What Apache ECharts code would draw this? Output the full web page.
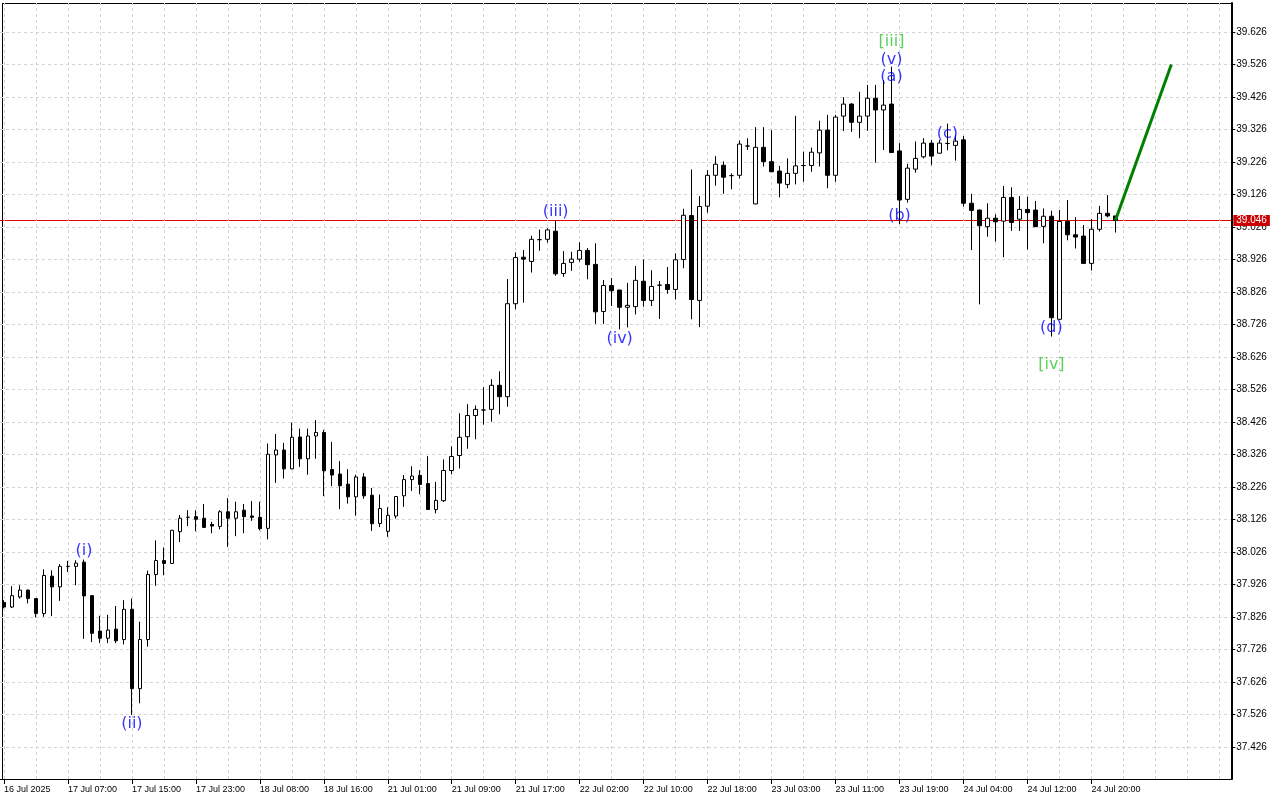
<!DOCTYPE html>
<html><head><meta charset="utf-8">
<script src="https://cdn.jsdelivr.net/npm/echarts@6/dist/echarts.min.js"></script>
<style>html,body{margin:0;padding:0;background:#fff}#c{width:1280px;height:800px}</style>
</head><body><div id="c"></div>
<script>
// hourly bars (server time), 00:00 hour and weekend absent
const categories = [
'16 Jul 22:00','16 Jul 23:00',
'17 Jul 01:00','17 Jul 02:00','17 Jul 03:00','17 Jul 04:00','17 Jul 05:00','17 Jul 06:00','17 Jul 07:00','17 Jul 08:00','17 Jul 09:00','17 Jul 10:00','17 Jul 11:00','17 Jul 12:00','17 Jul 13:00','17 Jul 14:00','17 Jul 15:00','17 Jul 16:00','17 Jul 17:00','17 Jul 18:00','17 Jul 19:00','17 Jul 20:00','17 Jul 21:00','17 Jul 22:00','17 Jul 23:00',
'18 Jul 01:00','18 Jul 02:00','18 Jul 03:00','18 Jul 04:00','18 Jul 05:00','18 Jul 06:00','18 Jul 07:00','18 Jul 08:00','18 Jul 09:00','18 Jul 10:00','18 Jul 11:00','18 Jul 12:00','18 Jul 13:00','18 Jul 14:00','18 Jul 15:00','18 Jul 16:00','18 Jul 17:00','18 Jul 18:00','18 Jul 19:00','18 Jul 20:00','18 Jul 21:00','18 Jul 22:00','18 Jul 23:00',
'21 Jul 01:00','21 Jul 02:00','21 Jul 03:00','21 Jul 04:00','21 Jul 05:00','21 Jul 06:00','21 Jul 07:00','21 Jul 08:00','21 Jul 09:00','21 Jul 10:00','21 Jul 11:00','21 Jul 12:00','21 Jul 13:00','21 Jul 14:00','21 Jul 15:00','21 Jul 16:00','21 Jul 17:00','21 Jul 18:00','21 Jul 19:00','21 Jul 20:00','21 Jul 21:00','21 Jul 22:00','21 Jul 23:00',
'22 Jul 01:00','22 Jul 02:00','22 Jul 03:00','22 Jul 04:00','22 Jul 05:00','22 Jul 06:00','22 Jul 07:00','22 Jul 08:00','22 Jul 09:00','22 Jul 10:00','22 Jul 11:00','22 Jul 12:00','22 Jul 13:00','22 Jul 14:00','22 Jul 15:00','22 Jul 16:00','22 Jul 17:00','22 Jul 18:00','22 Jul 19:00','22 Jul 20:00','22 Jul 21:00','22 Jul 22:00','22 Jul 23:00',
'23 Jul 01:00','23 Jul 02:00','23 Jul 03:00','23 Jul 04:00','23 Jul 05:00','23 Jul 06:00','23 Jul 07:00','23 Jul 08:00','23 Jul 09:00','23 Jul 10:00','23 Jul 11:00','23 Jul 12:00','23 Jul 13:00','23 Jul 14:00','23 Jul 15:00','23 Jul 16:00','23 Jul 17:00','23 Jul 18:00','23 Jul 19:00','23 Jul 20:00','23 Jul 21:00','23 Jul 22:00','23 Jul 23:00',
'24 Jul 01:00','24 Jul 02:00','24 Jul 03:00','24 Jul 04:00','24 Jul 05:00','24 Jul 06:00','24 Jul 07:00','24 Jul 08:00','24 Jul 09:00','24 Jul 10:00','24 Jul 11:00','24 Jul 12:00','24 Jul 13:00','24 Jul 14:00','24 Jul 15:00','24 Jul 16:00','24 Jul 17:00','24 Jul 18:00','24 Jul 19:00','24 Jul 20:00','24 Jul 21:00','24 Jul 22:00','24 Jul 23:00',
'25 Jul 01:00','25 Jul 02:00','25 Jul 03:00','25 Jul 04:00','25 Jul 05:00','25 Jul 06:00','25 Jul 07:00','25 Jul 08:00','25 Jul 09:00','25 Jul 10:00','25 Jul 11:00','25 Jul 12:00','25 Jul 13:00','25 Jul 14:00'
];
const tickLabels = ['16 Jul 2025','17 Jul 07:00','17 Jul 15:00','17 Jul 23:00','18 Jul 08:00','18 Jul 16:00','21 Jul 01:00','21 Jul 09:00','21 Jul 17:00','22 Jul 02:00','22 Jul 10:00','22 Jul 18:00','23 Jul 03:00','23 Jul 11:00','23 Jul 19:00','24 Jul 04:00','24 Jul 12:00','24 Jul 20:00'];
const yTicks = [37.426,37.526,37.626,37.726,37.826,37.926,38.026,38.126,38.226,38.326,38.426,38.526,38.626,38.726,38.826,38.926,39.026,39.126,39.226,39.326,39.426,39.526,39.626];

const open = [37.871,37.857,37.888,37.909,37.883,37.837,37.952,37.919,37.982,37.982,37.995,37.892,37.783,37.761,37.789,37.757,37.850,37.606,37.757,37.957,
38.000,37.991,38.089,38.133,38.135,38.130,38.111,38.105,38.150,38.130,38.155,38.137,38.133,38.099,38.325,38.340,38.282,38.380,38.313,38.383,
38.394,38.280,38.266,38.235,38.196,38.257,38.201,38.114,38.090,38.137,38.199,38.249,38.262,38.237,38.157,38.184,38.277,38.323,38.381,38.446,
38.463,38.465,38.539,38.504,38.790,38.933,38.920,38.987,38.988,39.013,38.883,38.917,38.927,38.954,38.911,38.766,38.846,38.832,38.779,38.781,
38.859,38.800,38.847,38.849,38.834,38.926,39.061,38.800,39.090,39.185,39.216,39.184,39.185,39.275,39.097,39.271,39.227,39.198,39.157,39.191,
39.215,39.215,39.254,39.324,39.185,39.367,39.404,39.348,39.367,39.422,39.386,39.404,39.260,39.111,39.204,39.242,39.284,39.253,39.283,39.277,
39.294,39.099,39.078,39.027,39.053,39.044,39.117,39.050,39.080,39.078,39.028,39.059,38.742,39.043,39.002,38.998,38.914,39.019,39.068,39.060];
const high = [37.878,37.921,37.924,37.911,37.884,37.973,37.970,37.989,37.999,38.001,38.003,37.893,37.830,37.833,37.860,37.878,37.883,37.812,37.969,38.062,
38.040,38.094,38.140,38.155,38.155,38.174,38.119,38.155,38.192,38.181,38.174,38.183,38.181,38.360,38.389,38.362,38.424,38.406,38.406,38.432,
38.402,38.365,38.306,38.281,38.264,38.269,38.223,38.203,38.164,38.198,38.263,38.290,38.278,38.321,38.242,38.311,38.351,38.453,38.481,38.477,
38.533,38.558,38.582,38.866,38.948,38.955,38.999,39.018,39.022,39.045,38.952,38.950,38.979,38.961,38.976,38.863,38.869,38.833,38.854,38.906,
38.926,38.893,38.860,38.903,38.945,39.082,39.203,39.121,39.201,39.244,39.228,39.191,39.292,39.299,39.333,39.333,39.324,39.214,39.237,39.368,
39.258,39.270,39.353,39.371,39.371,39.425,39.407,39.442,39.463,39.463,39.478,39.519,39.284,39.220,39.289,39.299,39.294,39.294,39.344,39.308,
39.306,39.128,39.080,39.099,39.065,39.152,39.148,39.121,39.119,39.106,39.083,39.076,39.078,39.109,39.056,39.032,39.050,39.091,39.124,39.060];
const low = [37.853,37.854,37.883,37.868,37.825,37.827,37.829,37.876,37.965,37.924,37.759,37.749,37.746,37.746,37.746,37.742,37.525,37.561,37.735,37.922,
37.955,37.990,38.057,38.106,38.090,38.101,38.084,38.096,38.042,38.075,38.084,38.122,38.093,38.065,38.239,38.252,38.281,38.288,38.264,38.313,
38.198,38.229,38.158,38.175,38.138,38.190,38.091,38.103,38.073,38.129,38.165,38.214,38.204,38.156,38.145,38.180,38.265,38.283,38.344,38.373,
38.418,38.427,38.450,38.473,38.773,38.793,38.886,38.953,38.978,38.876,38.873,38.891,38.919,38.865,38.728,38.728,38.783,38.711,38.717,38.757,
38.781,38.783,38.743,38.821,38.803,38.899,38.742,38.718,39.070,39.153,39.128,39.142,39.175,39.263,39.096,39.212,39.195,39.117,39.145,39.157,
39.165,39.196,39.212,39.145,39.165,39.321,39.319,39.299,39.322,39.224,39.263,39.254,39.035,39.101,39.193,39.237,39.216,39.252,39.262,39.230,
39.089,38.955,38.788,38.996,38.981,38.933,39.014,39.014,38.957,39.026,38.976,38.689,38.741,38.985,38.960,38.913,38.892,39.012,39.056,39.009];
const close = [37.857,37.892,37.909,37.883,37.837,37.954,37.919,37.982,37.982,37.992,37.891,37.776,37.761,37.786,37.753,37.850,37.606,37.757,37.957,38.000,
37.991,38.093,38.130,38.133,38.127,38.102,38.106,38.150,38.130,38.150,38.135,38.133,38.098,38.327,38.340,38.282,38.379,38.313,38.383,38.394,
38.276,38.263,38.230,38.196,38.257,38.199,38.113,38.160,38.139,38.197,38.249,38.260,38.234,38.157,38.185,38.277,38.320,38.379,38.446,38.465,
38.463,38.539,38.504,38.790,38.932,38.927,38.988,38.987,39.017,38.882,38.914,38.927,38.954,38.910,38.765,38.846,38.830,38.779,38.785,38.862,
38.800,38.843,38.847,38.834,38.925,39.062,38.803,39.089,39.185,39.219,39.179,39.184,39.281,39.275,39.271,39.227,39.196,39.161,39.191,39.214,
39.215,39.256,39.324,39.185,39.364,39.404,39.348,39.367,39.422,39.386,39.401,39.255,39.109,39.207,39.237,39.284,39.244,39.284,39.283,39.290,
39.099,39.077,39.030,39.053,39.042,39.117,39.040,39.080,39.070,39.027,39.059,38.747,39.043,39.002,38.995,38.914,39.019,39.068,39.060,39.046];

const currentPrice = 39.046;
const forecastPoints = [['24 Jul 23:00', 39.046], ['25 Jul 07:00', 39.526]];
const blueWaves = [['(i)','17 Jul 09:00',38.029],['(ii)','17 Jul 15:00',37.499],['(iii)','21 Jul 22:00',39.072],['(iv)','22 Jul 07:00',38.683],
  ['(v)','23 Jul 18:00',39.540],['(a)','23 Jul 18:00',39.488],['(b)','23 Jul 19:00',39.061],['(c)','24 Jul 02:00',39.314],['(d)','24 Jul 15:00',38.715]];
const greenWaves = [['[iii]','23 Jul 18:00',39.595],['[iv]','24 Jul 15:00',38.603]];
const vGridEvery = 4;

const candleData = open.map((o, i) => [o, close[i], low[i], high[i]]);
const vGrid = categories.map((c, i) => i).filter(i => i % vGridEvery === 0).map(i => ({ xAxis: categories[i] }));
const showTick = (i) => i % 8 === 0 && i / 8 < tickLabels.length;
const gridCol = '#d4d4d4';
const axisFont = "'Liberation Sans', Arial, sans-serif";
const yMin = 37.328, yMax = 39.715;

const chart = echarts.init(document.getElementById('c'), null, { renderer: 'canvas' });
chart.setOption({
  animation: false,
  backgroundColor: '#ffffff',
  grid: { left: -0.7, right: 48.7, top: 3, bottom: 21, containLabel: false },
  xAxis: {
    type: 'category', data: categories, boundaryGap: true,
    axisLine: { show: true, lineStyle: { color: '#000', width: 1 } },
    axisTick: { show: true, alignWithLabel: true, interval: showTick, length: 5, lineStyle: { color: '#000' } },
    axisLabel: { interval: showTick, formatter: (v, i) => tickLabels[i / 8], align: 'left', margin: 6,
      color: '#000', fontSize: 9, fontFamily: axisFont },
    splitLine: { show: false }
  },
  yAxis: [{
    type: 'value', position: 'right', min: yMin, max: yMax,
    axisLine: { show: true, lineStyle: { color: '#000', width: 2 } },
    axisTick: { show: true, customValues: yTicks, length: 4, lineStyle: { color: '#000' } },
    axisLabel: { customValues: yTicks, formatter: v => v.toFixed(3), margin: 5, color: '#000', fontSize: 10, fontFamily: axisFont },
    splitLine: { show: true, lineStyle: { color: gridCol, type: [3, 3], width: 1 } }
  }, {
    type: 'value', position: 'right', min: yMin, max: yMax,
    axisLine: { show: false },
    axisTick: { show: false, customValues: [currentPrice] },
    axisLabel: { customValues: [currentPrice], formatter: v => v.toFixed(3), margin: 2, color: '#ffffff',
      backgroundColor: '#cc0000', padding: [1, 3, 0, 3], fontSize: 10, fontFamily: axisFont },
    splitLine: { show: true, lineStyle: { color: '#e00000', type: 'solid', width: 1 } }
  }],
  graphic: [
    { type: 'line', shape: { x1: 2, y1: 3.5, x2: 1232, y2: 3.5 }, style: { stroke: '#000', lineWidth: 1 }, silent: true },
    { type: 'line', shape: { x1: 2.5, y1: 3, x2: 2.5, y2: 779 }, style: { stroke: '#000', lineWidth: 1 }, silent: true }
  ],
  series: [
    {
      type: 'line', data: [], silent: true, z: 1,
      markLine: { silent: true, z: 1, symbol: 'none', animation: false, label: { show: false },
        lineStyle: { color: gridCol, type: [3, 3], width: 1 }, data: vGrid }
    },
    {
      type: 'candlestick', data: candleData, barWidth: 4, z: 3,
      itemStyle: { color: '#ffffff', color0: '#000000', borderColor: '#000000', borderColor0: '#000000', borderWidth: 1 }
    },
    {
      type: 'line', data: forecastPoints, symbol: 'none', z: 4, silent: true,
      lineStyle: { color: '#008000', width: 3 }
    },
    {
      type: 'scatter', silent: true, z: 5, symbolSize: 1, itemStyle: { color: 'rgba(0,0,0,0)' },
      data: blueWaves.map(w => ({ name: w[0], value: [w[1], w[2]] })),
      label: { show: true, position: 'inside', formatter: '{b}', color: '#0000ff', fontSize: 16, fontFamily: 'DejaVu Sans' }
    },
    {
      type: 'scatter', silent: true, z: 5, symbolSize: 1, itemStyle: { color: 'rgba(0,0,0,0)' },
      data: greenWaves.map(w => ({ name: w[0], value: [w[1], w[2]] })),
      label: { show: true, position: 'inside', formatter: '{b}', color: '#33c433', fontSize: 16, fontFamily: 'DejaVu Sans' }
    }
  ]
});
</script></body></html>
